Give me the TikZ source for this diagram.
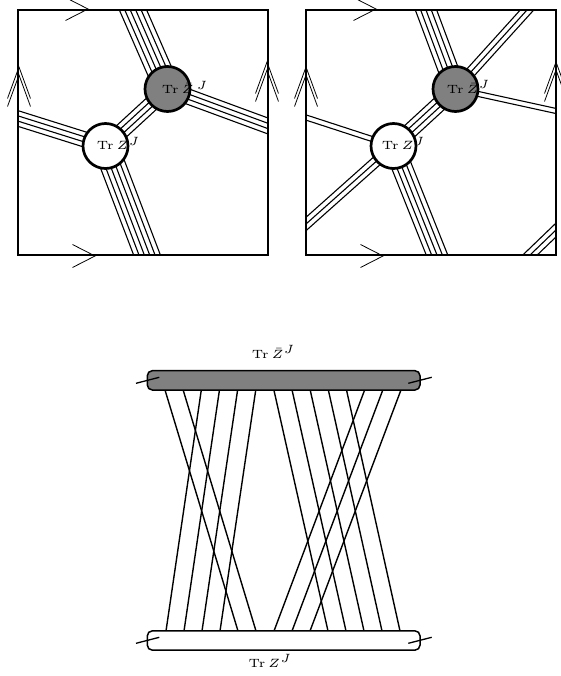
\documentclass[tikz,border=0pt]{standalone}
\usepackage{graphicx}
\usetikzlibrary{calc}
\tikzset{
  sq/.style={draw, line width=2.8pt, inner sep=0pt},
  ribbonline/.style={line width=1.1pt},
  vtx/.style={circle, draw, line width=2.7pt, minimum size=45pt, inner sep=0pt},
  dark/.style={vtx, fill=black!50},
  light/.style={vtx, fill=white},
  lbl/.style={inner sep=0pt, anchor=base west, font=\fontsize{5}{6}\selectfont},
  chev/.style={line width=0.8pt},
  bar/.style={draw, rounded corners=5pt, line width=1.5pt, minimum width=272.7pt, minimum height=19.3pt, inner sep=0pt},
  strand/.style={line width=1.4pt},
  tick/.style={line width=1.3pt},
}
\newcommand\ribbon[4]{%
  \foreach \k in {1,...,#3}{%
    \pgfmathsetmacro\o{(\k-(#3+1)/2)*#4}%
    \draw[ribbonline] ($(#1)!\o pt!90:(#2)$) -- ($(#2)!\o pt!-90:(#1)$);
  }}
\newcommand\hchev[2]{\draw[chev] ($(#1,#2)+(-22.5,-11.5)$) -- (#1,#2) -- ($(#1,#2)+(-22.5,11.5)$);}
\newcommand\vchev[2]{%
  \draw[chev] ($(#1,#2)+(-11.5,31.5)$) -- (#1,#2) -- ($(#1,#2)+(11.5,31.5)$);
  \draw[chev] ($(#1,#2)+(-11.5,39.5)$) -- ($(#1,#2)+(0,8)$) -- ($(#1,#2)+(11.5,39.5)$);}
\begin{document}
\begin{tikzpicture}[x=1pt,y=-1pt]
\useasboundingbox (0,0) rectangle (561,676);

% ---------------- left torus ----------------
\coordinate (LD) at (167.5,89);
\coordinate (LW) at (105.5,146);
\coordinate (LTop) at ($(LD)!1.5!(133,10)$);
\coordinate (LBot) at ($(LW)!1.5!(147,255)$);
\coordinate (LLeft) at ($(LW)!1.5!(18,118.5)$);
\coordinate (LRight) at ($(LD)!1.5!(268,126)$);
\begin{scope}
  \clip (18,10) rectangle (268,255);
  \ribbon{LD}{LTop}{6}{5}
  \ribbon{LW}{LBot}{6}{5}
  \ribbon{LW}{LLeft}{4}{5}
  \ribbon{LD}{LRight}{4}{5}
  \ribbon{LW}{LD}{4}{5}
\end{scope}
\node[sq, minimum width=250pt, minimum height=245pt] (sqL) at (143,132.5) {};
\node[dark] (dL) at (LD) {};
\node[light] (wL) at (LW) {};
\node[lbl] (dLl) at (161.7,94) {\scalebox{2.4}{$\mathrm{Tr}\,\bar Z^{\,J}$}};
\node[lbl] (wLl) at (96.7,150) {\scalebox{2.4}{$\mathrm{Tr}\,Z^J$}};
\hchev{88}{9}
\hchev{95}{256}
\vchev{19}{67}
\vchev{267}{62}

% ---------------- right torus ----------------
\coordinate (RD) at (455.5,89);
\coordinate (RW) at (393.5,146);
\coordinate (RTop) at ($(RD)!1.5!(426,10)$);
\coordinate (RBot) at ($(RW)!1.5!(437,255)$);
\coordinate (RLeft) at ($(RW)!1.5!(306,117.5)$);
\coordinate (RRight) at ($(RD)!1.5!(556,111)$);
\coordinate (RUp) at ($(RD)!1.5!(527,10)$);
\coordinate (RDown) at ($(RW)!1.5!(306,224)$);
\coordinate (RC1) at ($(530,255)!-1!(556,230)$);
\coordinate (RC2) at ($(530,255)!2!(556,230)$);
\begin{scope}
  \clip (306,10) rectangle (556,255);
  \ribbon{RD}{RTop}{5}{5}
  \ribbon{RW}{RBot}{5}{5}
  \ribbon{RW}{RLeft}{2}{5}
  \ribbon{RD}{RRight}{2}{5}
  \ribbon{RW}{RD}{4}{5}
  \ribbon{RD}{RUp}{3}{5}
  \ribbon{RW}{RDown}{3}{5}
  \ribbon{RC1}{RC2}{3}{5}
\end{scope}
\node[sq, minimum width=250pt, minimum height=245pt] (sqR) at (431,132.5) {};
\node[dark] (dR) at (RD) {};
\node[light] (wR) at (RW) {};
\node[lbl] (dRl) at (446.7,93.3) {\scalebox{2.4}{$\mathrm{Tr}\,\bar Z^J$}};
\node[lbl] (wRl) at (381.7,150) {\scalebox{2.4}{$\mathrm{Tr}\,Z^J$}};
\hchev{376}{9}
\hchev{383}{256}
\vchev{306}{67}
\vchev{556}{62}

% ---------------- bottom diagram ----------------
\foreach \i in {0,...,13}{%
  \coordinate (t\i) at ({165+18.15*\i},390);
  \coordinate (b\i) at ({166+18*\i},631);
}
\foreach \a/\b in {0/4,1/5,2/0,3/1,4/2,5/3,6/9,7/10,8/11,9/12,10/13,11/6,12/7,13/8}{%
  \draw[strand] (t\a) -- (b\b);
}
\node[bar, fill=black!50] (topbar) at (283.65,380.35) {};
\node[bar, fill=white] (botbar) at (283.65,640.5) {};
\coordinate (tl1) at (136,383.3); \coordinate (tl2) at (159.3,377.3);
\coordinate (tr1) at (408.3,383.3); \coordinate (tr2) at (431.7,377.3);
\coordinate (bl1) at (136,643.3); \coordinate (bl2) at (159.3,637.3);
\coordinate (br1) at (408.3,643.3); \coordinate (br2) at (431.7,637.3);
\draw[tick] (tl1) -- (tl2);
\draw[tick] (tr1) -- (tr2);
\draw[tick] (bl1) -- (bl2);
\draw[tick] (br1) -- (br2);
\node[lbl] (toplbl) at (251.7,358.3) {\scalebox{2.4}{$\mathrm{Tr}\,\bar Z^J$}};
\node[lbl] (botlbl) at (248.3,667.3) {\scalebox{2.4}{$\mathrm{Tr}\,Z^J$}};
\end{tikzpicture}
\end{document}
